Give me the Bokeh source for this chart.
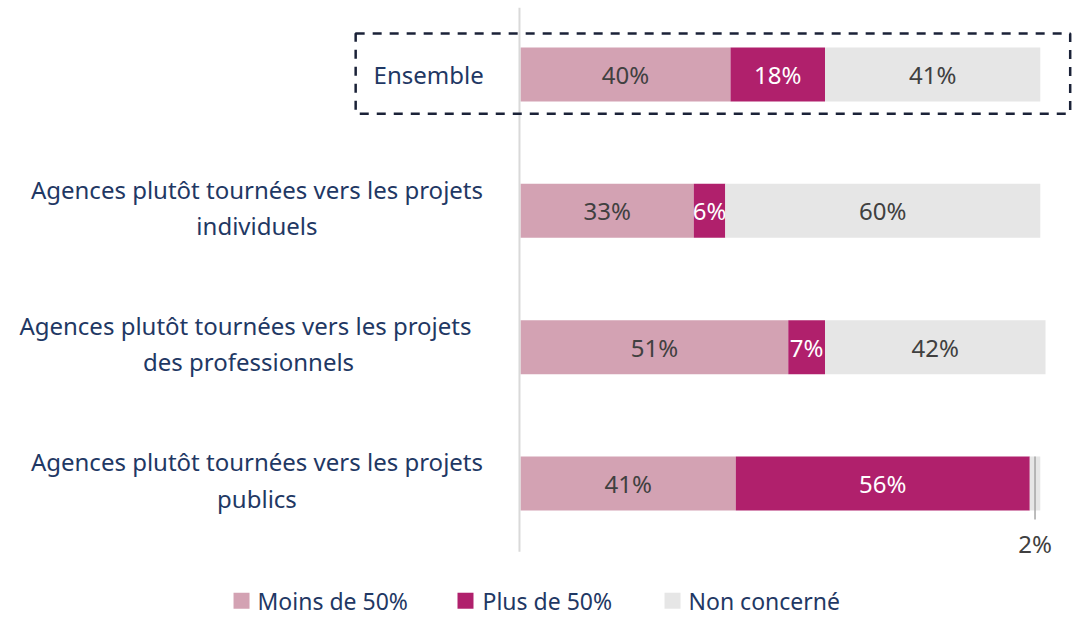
from bokeh.plotting import figure
from bokeh.models import Range1d, ColumnDataSource
from bokeh.core.properties import value
from bokeh.embed import file_html
from bokeh.resources import INLINE
import numpy as np

# ---- data ----
categories = [
    "Ensemble",
    "Agences plutôt tournées vers les projets\nindividuels",
    "Agences plutôt tournées vers les projets \ndes professionnels",
    "Agences plutôt tournées vers les projets\npublics",
]
series_names = ["Moins de 50%", "Plus de 50%", "Non concerné"]
moins_50 = [40, 33, 51, 41]
plus_50 = [18, 6, 7, 56]
non_concerne = [41, 60, 42, 2]

# ---- styles ----
colors = ["#d3a2b3", "#b0206c", "#e6e6e6"]
label_colors = ["#404040", "#ffffff", "#404040"]
navy = "#1f3864"
FONT = value("Noto Sans")

W, H = 1074, 617
p = figure(width=W, height=H, output_backend="svg", toolbar_location=None,
           x_range=Range1d(-99.05, 105.52), y_range=Range1d(3.983, -0.5428),
           min_border=0, min_border_left=0, min_border_right=0,
           min_border_top=0, min_border_bottom=0)
p.axis.visible = False
p.grid.visible = False
p.outline_line_color = None
p.background_fill_color = "white"

rows = list(range(len(categories)))
series = [moins_50, plus_50, non_concerne]
bar_h = 0.396

left = np.zeros(len(rows))
for vals, col, lc in zip(series, colors, label_colors):
    vals = np.array(vals, dtype=float)
    right = left + vals
    src = ColumnDataSource(dict(y=rows, left=left, right=right,
                                mid=(left + right) / 2,
                                txt=[f"{int(v)}%" for v in vals]))
    p.hbar(y="y", left="left", right="right", height=bar_h, source=src,
           fill_color=col, line_color=None)
    # value labels inside bars (tiny segment is labelled below)
    keep = [i for i, v in enumerate(vals) if v >= 5]
    lsrc = ColumnDataSource(dict(x=[src.data["mid"][i] for i in keep],
                                 y=[rows[i] for i in keep],
                                 t=[src.data["txt"][i] for i in keep]))
    p.text(x="x", y="y", text="t", source=lsrc, text_align="center",
           text_baseline="middle", text_color=lc, text_font=FONT,
           text_font_size="24px")
    small = [i for i, v in enumerate(vals) if v < 5]
    for i in small:
        xm = src.data["mid"][i]
        p.segment(x0=[xm], y0=[rows[i] - bar_h / 2], x1=[xm], y1=[rows[i] + 0.264],
                  line_color="#a6a6a6", line_width=1.5)
        p.text(x=[xm], y=[rows[i] + 0.44], text=[src.data["txt"][i]],
               text_align="center", text_baseline="middle", text_color="#404040",
               text_font=FONT, text_font_size="24px")
    left = right

# vertical category axis line
p.segment(x0=[-0.2], y0=[-0.49], x1=[-0.2], y1=[3.5], line_color="#d9d9d9",
          line_width=2)

# category labels
label_cx = [-17.5, -50.2, -51.8, -50.2]
label_cy = [r - (0.025 if "\n" in c else 0) for r, c in zip(rows, categories)]
p.text(x=label_cx, y=label_cy, text=categories, text_align="center",
       text_baseline="middle", text_color=navy, text_font=FONT,
       text_font_size="24px", text_line_height=1.1)

# dashed highlight box around "Ensemble"
p.quad(left=[-31.4], right=[104.7], top=[-0.30], bottom=[0.287],
       fill_color=None, line_color="#1b2238", line_width=2.5, line_dash="9 8")

# legend
leg_y = 3.86
sq_x = [-53.14, -10.48, 28.95]
tx_x = [-50.1, -7.24, 32.0]
p.scatter(x=sq_x, y=[leg_y] * 3, marker="square", size=16, fill_color=colors,
          line_color=None)
p.text(x=tx_x, y=[leg_y] * 3, text=series_names, text_align="left",
       text_baseline="middle", text_color=navy, text_font=FONT,
       text_font_size="23px")

open("out.html", "w").write(file_html(p, INLINE))
